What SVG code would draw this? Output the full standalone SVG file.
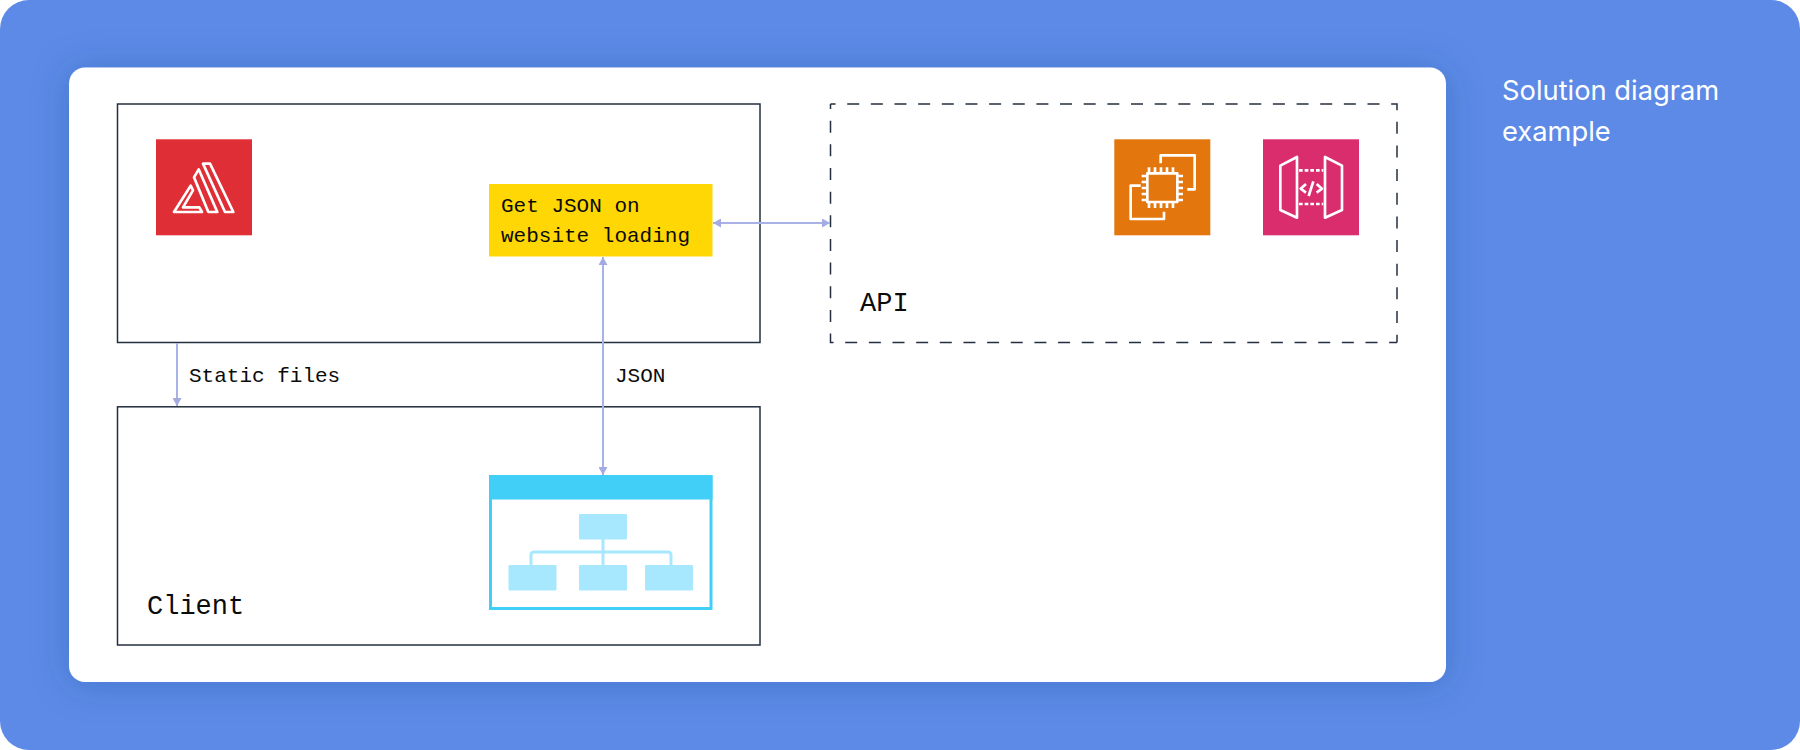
<svg xmlns="http://www.w3.org/2000/svg" width="1800" height="750" viewBox="0 0 1800 750">
<style>
.box{fill:none;stroke:#232f3e;stroke-width:1.5}
.dash{stroke-dasharray:12 11.65;stroke-dashoffset:6.95}
.mono{font-family:"Liberation Mono","DejaVu Sans Mono",monospace;fill:#0b0b0b}
.sm{font-size:21px}
.lg{font-size:27px}
.title{font-family:Inter,"Noto Sans",sans-serif;font-size:27.3px;fill:#fff}
.ic{fill:none;stroke:#fff;stroke-width:8;stroke-linejoin:round}
.sky{fill:#a8e8ff}
.conn{fill:none;stroke:#a9b2e6;stroke-width:2}
</style>
<defs>
<filter id="soft" x="-10%" y="-20%" width="120%" height="140%"><feDropShadow dx="0" dy="2" stdDeviation="18" flood-color="#1f3f8f" flood-opacity="0.28"/></filter>
<marker id="ah" markerUnits="userSpaceOnUse" markerWidth="8" markerHeight="9" refX="8" refY="4.5" orient="auto-start-reverse"><path d="M0 0L8 4.5L0 9z" fill="#a3abe2"/></marker>
</defs>
<rect width="1800" height="750" fill="#fff"/>
<rect id="background" width="1800" height="750" rx="29" fill="#5c8ae6"/>
<rect id="card" x="69" y="67.500" width="1377" height="614.500" rx="16" fill="#fff" filter="url(#soft)"/>
<g id="solution-title"><text class="title" x="1502" y="100">Solution diagram</text><text class="title" x="1502" y="141">example</text></g>
<g id="hosting-box"><rect class="box" x="117.500" y="104" width="642.500" height="238.500"/></g>
<g id="client-box"><rect class="box" x="117.500" y="406.800" width="642.500" height="238.200"/><text class="mono lg" x="147" y="614">Client</text></g>
<g id="api-box"><path class="box dash" d="M830.500 104H1397V342.500"/><path class="box dash" d="M830.500 104V342.500H1397"/><text class="mono lg" x="860" y="311">API</text></g>
<g id="amplify-icon"><rect x="156" y="139.300" width="96" height="96" fill="#e02e36"/>
<g transform="translate(100 90) scale(.33333)"><path class="ic" d="M222 366L272 287L279 301L249 352H298L306 366Z"/><path class="ic" d="M282 262L296 238L352 366H325Z"/><path class="ic" d="M309 221H330L400 366H375Z"/></g></g>
<g id="json-note"><rect x="489" y="184" width="223.500" height="72.500" fill="#ffd705"/><text class="mono sm" x="501" y="212">Get JSON on</text><text class="mono sm" x="501" y="242">website loading</text></g>
<g id="ec2-icon"><rect x="1114.300" y="139.300" width="96" height="96" fill="#e3760d"/>
<g transform="translate(1090 120) scale(.33333)"><rect class="ic" x="172" y="160" width="90" height="86"/><path class="ic" d="M212 130V106H314V208H292M152 197H122V297H222V275"/><path class="ic" d="M177 142V160M195 142V160M213 142V160M231 142V160M249 142V160M177 246V264M195 246V264M213 246V264M231 246V264M249 246V264M155 168H172M155 186H172M155 204H172M155 222H172M155 240H172M262 168H279M262 186H279M262 204H279M262 222H279M262 240H279"/></g></g>
<g id="api-gateway-icon"><rect x="1263" y="139.300" width="96" height="96" fill="#d92d6e"/>
<g transform="translate(1090 120) scale(.33333)"><path class="ic" d="M621 111V293L571 270V137Z"/><path class="ic" d="M705 111V293L756 270V137Z"/><path class="ic" stroke-dasharray="11 6" d="M627 151H700M627 252H700"/><path class="ic" d="M648 192L632 206L648 218M670 184L656 228M680 192L696 206L680 218"/></g></g>
<g id="web-icon"><rect x="490.500" y="476.500" width="220.500" height="132" fill="#fff" stroke="#42cff7" stroke-width="3"/><rect x="489" y="475" width="223.500" height="24.500" fill="#42cff7"/>
<rect class="sky" x="579" y="514" width="48" height="25.500" rx="1"/><rect class="sky" x="508.500" y="565" width="48" height="25.500" rx="1"/><rect class="sky" x="579" y="565" width="48" height="25.500" rx="1"/><rect class="sky" x="645" y="565" width="48" height="25.500" rx="1"/>
<path d="M603 539V566M531 566V555Q531 552 534 552H668Q671 552 671 555V566" fill="none" stroke="#a8e8ff" stroke-width="3"/></g>
<g id="connectors"><path class="conn" d="M177 343V406" marker-end="url(#ah)"/><path class="conn" d="M603 257V475" marker-start="url(#ah)" marker-end="url(#ah)"/><path class="conn" d="M713 223H830" marker-start="url(#ah)" marker-end="url(#ah)"/></g>
<g id="connector-labels"><text class="mono sm" x="189" y="382">Static files</text><text class="mono sm" x="615" y="382">JSON</text></g>
</svg>
